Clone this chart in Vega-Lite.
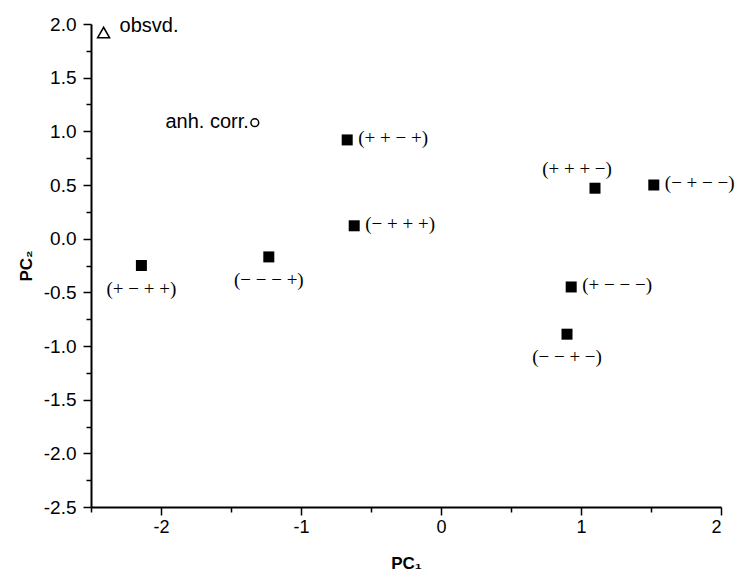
{
  "$schema": "https://vega.github.io/schema/vega-lite/v6.json",
  "autosize": "none",
  "width": 630,
  "height": 483,
  "padding": {"left": 91, "top": 24, "right": 16, "bottom": 69},
  "background": "white",
  "config": {"view": {"stroke": null}},
  "data": {"values": [
    {"pc1": -2.41, "pc2": 1.92, "kind": "obs", "label": "obsvd."},
    {"pc1": -1.33, "pc2": 1.08, "kind": "anh", "label": "anh. corr."},
    {"pc1": -0.67, "pc2": 0.92, "kind": "sim", "label": "(+ + − +)"},
    {"pc1": -0.62, "pc2": 0.12, "kind": "sim", "label": "(− + + +)"},
    {"pc1": -2.14, "pc2": -0.25, "kind": "sim", "label": "(+ − + +)"},
    {"pc1": -1.23, "pc2": -0.17, "kind": "sim", "label": "(− − − +)"},
    {"pc1": 1.10, "pc2": 0.47, "kind": "sim", "label": "(+ + + −)"},
    {"pc1": 1.52, "pc2": 0.50, "kind": "sim", "label": "(− + − −)"},
    {"pc1": 0.93, "pc2": -0.45, "kind": "sim", "label": "(+ − − −)"},
    {"pc1": 0.90, "pc2": -0.89, "kind": "sim", "label": "(− − + −)"}
  ]},
  "encoding": {
    "x": {"field": "pc1", "type": "quantitative",
      "scale": {"domain": [-2.5, 2], "nice": false, "zero": false},
      "axis": {
        "title": "PC₁", "titleFont": "Liberation Sans", "titleFontSize": 17, "titleFontWeight": "bold", "titleColor": "black", "titlePadding": 19,
        "values": [-2.5, -2, -1.5, -1, -0.5, 0, 0.5, 1, 1.5, 2],
        "labelExpr": "datum.value % 1 === 0 ? '' + datum.value : ''",
        "labelFont": "Liberation Sans", "labelFontSize": 18, "labelColor": "black", "labelPadding": 3,
        "domainColor": "black", "domainWidth": 2,
        "tickColor": "black", "tickWidth": 1.5,
        "tickSize": {"condition": {"test": "datum.value % 1 === 0", "value": 8}, "value": 5},
        "grid": false
      }
    },
    "y": {"field": "pc2", "type": "quantitative",
      "scale": {"domain": [-2.5, 2], "nice": false, "zero": false},
      "axis": {
        "title": "PC₂", "titleFont": "Liberation Sans", "titleFontSize": 17, "titleFontWeight": "bold", "titleColor": "black", "titlePadding": 8,
        "values": [-2.5, -2.25, -2, -1.75, -1.5, -1.25, -1, -0.75, -0.5, -0.25, 0, 0.25, 0.5, 0.75, 1, 1.25, 1.5, 1.75, 2],
        "labelExpr": "datum.value % 0.5 === 0 ? replace(format(datum.value, '.1f'), '−', '-') : ''",
        "labelFont": "Liberation Sans", "labelFontSize": 19, "labelColor": "black", "labelPadding": 7,
        "domainColor": "black", "domainWidth": 2,
        "tickColor": "black", "tickWidth": 1.5,
        "tickSize": {"condition": {"test": "datum.value % 0.5 === 0", "value": 8}, "value": 5},
        "grid": false
      }
    }
  },
  "layer": [
    {"transform": [{"filter": "datum.kind === 'sim'"}],
     "mark": {"type": "point", "shape": "square", "filled": true, "color": "black", "size": 121, "opacity": 1}},
    {"transform": [{"filter": "datum.kind === 'obs'"}],
     "mark": {"type": "point", "shape": "triangle-up", "filled": false, "color": "black", "strokeWidth": 1.6, "size": 140, "opacity": 1}},
    {"transform": [{"filter": "datum.kind === 'anh'"}],
     "mark": {"type": "point", "shape": "circle", "filled": false, "color": "black", "strokeWidth": 1.5, "size": 60, "opacity": 1}},
    {"transform": [{"filter": {"field": "label", "oneOf": ["(+ + − +)", "(− + + +)", "(− + − −)", "(+ − − −)"]}}],
     "mark": {"type": "text", "align": "left", "baseline": "middle", "dx": 11, "dy": -2, "font": "Liberation Serif", "fontSize": 19, "color": "black"},
     "encoding": {"text": {"field": "label"}}},
    {"transform": [{"filter": {"field": "label", "oneOf": ["(+ − + +)", "(− − − +)", "(− − + −)"]}}],
     "mark": {"type": "text", "align": "center", "baseline": "middle", "dy": 23, "font": "Liberation Serif", "fontSize": 19, "color": "black"},
     "encoding": {"text": {"field": "label"}}},
    {"transform": [{"filter": {"field": "label", "equal": "(+ + + −)"}}],
     "mark": {"type": "text", "align": "center", "baseline": "middle", "dx": -18, "dy": -19, "font": "Liberation Serif", "fontSize": 19, "color": "black"},
     "encoding": {"text": {"field": "label"}}},
    {"transform": [{"filter": "datum.kind === 'obs'"}],
     "mark": {"type": "text", "align": "left", "baseline": "middle", "dx": 16, "dy": -7, "font": "Liberation Sans", "fontSize": 20, "color": "black"},
     "encoding": {"text": {"field": "label"}}},
    {"transform": [{"filter": "datum.kind === 'anh'"}],
     "mark": {"type": "text", "align": "right", "baseline": "middle", "dx": -6, "dy": -1, "font": "Liberation Sans", "fontSize": 20, "color": "black"},
     "encoding": {"text": {"field": "label"}}}
  ]
}
